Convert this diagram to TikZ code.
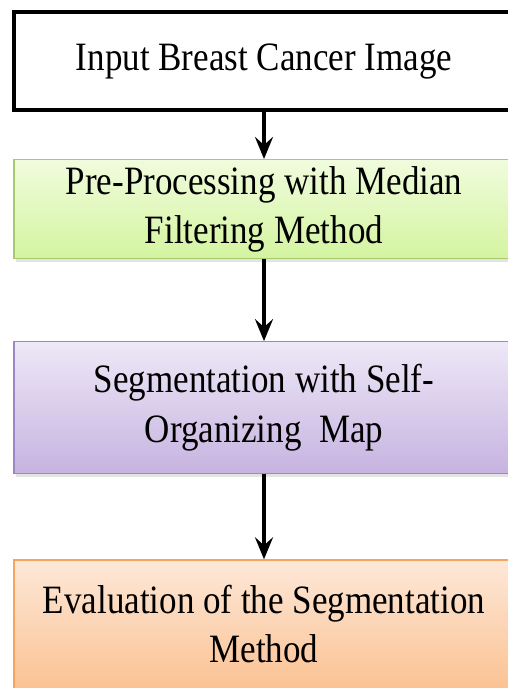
\documentclass[tikz,border=0pt]{standalone}
\usepackage{graphicx}
\usepackage{fontspec}
\setmainfont{Liberation Serif}
\usetikzlibrary{arrows.meta,positioning,shadows}

\definecolor{pretop}{HTML}{F0FCDD}
\definecolor{prebot}{HTML}{D4F4A0}
\definecolor{preline}{HTML}{A8CA6C}
\definecolor{segtop}{HTML}{EEE8F7}
\definecolor{segbot}{HTML}{C6B3E0}
\definecolor{segline}{HTML}{9D86C4}
\definecolor{evaltop}{HTML}{FDE8D8}
\definecolor{evalbot}{HTML}{FBC08F}
\definecolor{evalline}{HTML}{F7A45E}

% two-line box text, set a little taller than wide
\newcommand{\boxtext}[1]{\scalebox{1}[1.15]{\begin{tabular}{@{}c@{}}#1\end{tabular}}}

\begin{document}
\begin{tikzpicture}[
  x=1pt,y=1pt,
  stagebox/.style={rectangle,minimum width=500pt,inner sep=0pt,align=center,
                   font=\fontsize{35}{43}\selectfont,line width=1.2pt},
  inbox/.style={stagebox,draw=black,fill=white,line width=4pt,minimum height=98pt},
  shade/.style={drop shadow={shadow xshift=1.5pt,shadow yshift=-3pt,opacity=.22}},
  prebox/.style={stagebox,shade,draw=preline,top color=pretop,bottom color=prebot,
                 minimum height=98pt},
  segbox/.style={stagebox,shade,draw=segline,top color=segtop,bottom color=segbot,
                 minimum height=132pt},
  evalbox/.style={stagebox,shade,draw=evalline,top color=evaltop,bottom color=evalbot,
                  minimum height=136pt},
  flow/.style={-{Stealth[length=22pt,width=18pt,inset=8pt]},draw=black,line width=3.5pt}]

\path[use as bounding box,clip] (0,0) rectangle (508,-688);

% stages, top to bottom
\node[inbox] (input) at (264,-61) {\boxtext{Input Breast Cancer Image}};
\node[prebox,below=47pt of input] (median) {\boxtext{Pre-Processing with Median\\Filtering Method}};
\node[segbox,below=82pt of median] (som) {\boxtext{Segmentation with Self-\\Organizing\ \ Map}};
\node[evalbox,below=85pt of som] (evaluation) {\boxtext{Evaluation of the Segmentation\\Method}};

\draw[flow] (input) -- (median);
\draw[flow] (median) -- (som);
\draw[flow] (som) -- (evaluation);

\end{tikzpicture}
\end{document}
